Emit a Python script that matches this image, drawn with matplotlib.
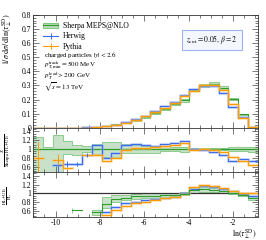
import numpy as np
import matplotlib
matplotlib.use("Agg")
import matplotlib.pyplot as plt
from matplotlib.ticker import MultipleLocator, FuncFormatter
from matplotlib.lines import Line2D
from matplotlib.patches import Patch

nan = np.nan

# binning in ln(tau_perp^SD)
edges = np.linspace(-11.0, -0.9, 24)

# main panel: 1/sigma dsigma/dln(tau)
sherpa = [0, 0, 0, 0, 0, 0.001, 0.004, 0.012, 0.024, 0.036, 0.053, 0.078, 0.108,
          0.135, 0.166, 0.197, 0.270, 0.300, 0.313, 0.285, 0.205, 0.095, 0.006]
herwig = [0, 0, 0.0003, 0.0005, 0.0008, 0.002, 0.006, 0.011, 0.022, 0.040, 0.059, 0.085, 0.118,
          0.152, 0.186, 0.231, 0.272, 0.296, 0.296, 0.248, 0.148, 0.074, 0.005]
pythia = [0, 0, 0, 0, 0, 0.001, 0.004, 0.009, 0.020, 0.036, 0.055, 0.080, 0.112,
          0.142, 0.178, 0.222, 0.262, 0.300, 0.305, 0.265, 0.170, 0.072, 0.004]

# ratio to Sherpa HL+UE
sherpa_r1_lo = [0.40, 0.40, 0.40, 0.89, 0.87, 0.94, 0.88, 0.82, 0.82, 0.91, 0.91, 0.91, 0.91,
                0.95, 0.95, 0.94, 0.97, 0.97, 0.97, 0.97, 0.96, 0.96, 0.94]
sherpa_r1_hi = [1.27, 1.05, 1.32, 1.19, 1.10, 1.06, 1.12, 1.17, 1.17, 1.12, 1.08, 1.07, 1.07,
                1.06, 1.05, 1.04, 1.03, 1.03, 1.03, 1.03, 1.04, 1.04, 1.05]
herwig_r1 = [nan, nan, 0.63, 0.66, 0.66, 0.87, 1.08, 0.80, 0.91, 1.10, 1.12, 1.08, 1.07,
             1.12, 1.13, 1.18, 0.99, 0.97, 0.94, 0.87, 0.72, 0.78, 0.74]
herwig_r1_err = [0, 0, 0.18, 0.06, 0.05, 0.05, 0, 0, 0, 0, 0, 0, 0, 0, 0, 0, 0, 0, 0, 0, 0, 0, 0]
pythia_r1 = [0.80, nan, 0.76, 0.58, nan, 0.86, 0.87, 0.72, 0.80, 0.98, 1.03, 1.03, 1.04,
             1.06, 1.10, 1.13, 0.98, 0.99, 0.97, 0.93, 0.83, 0.72, 0.64]
pythia_r1_err = [0.35, 0, 0.12, 0, 0, 0, 0, 0, 0, 0, 0, 0, 0, 0, 0, 0, 0, 0, 0, 0, 0, 0, 0]

# ratio HL+UE / PL
sherpa_r2 = [nan, nan, nan, nan, 0.62, nan, 0.57, 0.76, 0.88, 0.90, 0.93, 0.95, 0.95,
             0.96, 0.97, 0.99, 1.07, 1.09, 1.08, 1.05, 1.01, 0.97, 0.90]
sherpa_r2_lo = [nan, nan, nan, nan, 0.55, nan, 0.52, 0.66, 0.80, 0.84, 0.88, 0.90, 0.90,
                0.92, 0.93, 0.96, 1.02, 1.03, 1.03, 1.01, 0.98, 0.93, 0.86]
sherpa_r2_hi = [nan, nan, nan, nan, 0.68, nan, 0.62, 0.92, 0.97, 0.96, 0.98, 1.00, 1.00,
                1.00, 1.01, 1.03, 1.12, 1.14, 1.13, 1.10, 1.05, 1.01, 0.95]
herwig_r2 = [nan, nan, nan, nan, nan, nan, nan, 0.57, 0.70, 0.78, 0.81, 0.85, 0.88,
             0.90, 0.92, 1.00, 1.10, 1.17, 1.15, 1.10, 1.05, 0.99, 0.93]
pythia_r2 = [nan, nan, nan, nan, nan, nan, nan, 0.52, 0.63, 0.72, 0.78, 0.81, 0.86,
             0.89, 0.92, 0.99, 1.15, 1.20, 1.17, 1.12, 1.06, 1.00, 1.00]

main_yticks = [0, 0.1, 0.2, 0.3, 0.4, 0.5, 0.6, 0.7, 0.8]
ratio_yticks = [0.6, 0.8, 1.0, 1.2, 1.4]
xticks = [-10, -8, -6, -4, -2]

green = "#2f9e2f"
green_band = "#bfdcbf"
green_edge = "#7cc67c"
blue = "#3b6cf0"
orange = "#ff9c00"

plt.rcParams["font.family"] = ["Liberation Serif", "DejaVu Serif"]
plt.rcParams["mathtext.fontset"] = "stix"
plt.rcParams["axes.unicode_minus"] = False
plt.rcParams["font.size"] = 6


def ext(v):
    v = np.asarray(v, dtype=float)
    return np.append(v, v[-1])


def step(ax, vals, color, lw=0.8, light=None):
    if light is not None:
        ax.step(edges, ext(vals), where="post", color=light, lw=2.2, alpha=0.45)
    ax.step(edges, ext(vals), where="post", color=color, lw=lw)


def band(ax, lo, hi):
    ax.fill_between(edges, ext(lo), ext(hi), step="post", facecolor=green_band,
                    edgecolor=green_edge, lw=0.7, alpha=0.85)


fig = plt.figure(figsize=(2.66, 2.4), dpi=100)
L, W = 33.3 / 266, 224.4 / 266
ax0 = fig.add_axes([L, 1 - 128 / 240, W, 113 / 240])
ax1 = fig.add_axes([L, 1 - 172.3 / 240, W, 44.3 / 240])
ax2 = fig.add_axes([L, 1 - 216.7 / 240, W, 44.4 / 240])

# main panel
sh = np.array(sherpa)
band(ax0, sh * np.nan_to_num(sherpa_r1_lo), sh * np.array(sherpa_r1_hi))
step(ax0, sherpa, green)
step(ax0, herwig, blue, light="#8fb0ff")
step(ax0, pythia, orange, light="#ffc870")
ax0.set_ylim(-0.002, 0.8)

# ratio 1
band(ax1, sherpa_r1_lo, sherpa_r1_hi)
ax1.axhline(1, color=green, lw=0.9)
step(ax1, herwig_r1, blue, light="#8fb0ff")
step(ax1, pythia_r1, orange, light="#ffc870")
cen = 0.5 * (edges[1:] + edges[:-1])
ax1.errorbar(cen, herwig_r1, yerr=herwig_r1_err, fmt="none", ecolor=blue, elinewidth=0.7)
ax1.errorbar(cen, pythia_r1, yerr=pythia_r1_err, fmt="none", ecolor=orange, elinewidth=0.7)
ax1.set_ylim(0.475, 1.475)

# ratio 2
band(ax2, sherpa_r2_lo, sherpa_r2_hi)
ax2.axhline(1, color="#333333", lw=0.9)
step(ax2, herwig_r2, blue, light="#8fb0ff")
step(ax2, pythia_r2, orange, light="#ffc870")
step(ax2, sherpa_r2, green)
ax2.set_ylim(0.475, 1.475)

fmt = FuncFormatter(lambda v, p: "%g" % round(v, 3))
for ax in (ax0, ax1, ax2):
    ax.set_xlim(edges[0], edges[-1])
    ax.set_xticks(xticks)
    ax.xaxis.set_minor_locator(MultipleLocator(0.5))
    ax.tick_params(which="both", direction="in", top=True, right=True,
                   labelsize=5.5, width=0.5, color="#444444", pad=1.5)
    ax.tick_params(which="major", length=4)
    ax.tick_params(which="minor", length=2)
    ax.yaxis.set_major_formatter(fmt)
    for s in ax.spines.values():
        s.set_linewidth(0.6)
        s.set_color("#333333")
    if ax is not ax2:
        ax.tick_params(labelbottom=False)

ax0.set_yticks(main_yticks)
ax0.yaxis.set_minor_locator(MultipleLocator(0.02))
for ax in (ax1, ax2):
    ax.set_yticks(ratio_yticks)
    ax.yaxis.set_minor_locator(MultipleLocator(0.05))
ax2.xaxis.set_major_formatter(FuncFormatter(lambda v, p: "%d" % v))

# legend
handles = [(Patch(facecolor=green_band, edgecolor=green_edge, lw=0.7), Line2D([], [], color=green, lw=0.9)),
           Line2D([], [], color=blue, lw=0.8, marker="|", markersize=5, markeredgewidth=0.7),
           Line2D([], [], color=orange, lw=0.8, marker="|", markersize=5, markeredgewidth=0.7)]
labels = ["Sherpa MEPS@NLO", "Herwig", "Pythia"]
ax0.legend(handles, labels, loc="upper left", bbox_to_anchor=(0.03, 0.965), frameon=False,
           fontsize=5.5, handlelength=2.0, handletextpad=0.6, labelspacing=0.3, borderaxespad=0)

def px(x, y):
    return x / 266, 1 - y / 240

info = ["charged particles $|y| < 2.6$",
        r"$p_{T,\mathrm{min}}^{\mathrm{track}} = 500$ MeV",
        r"$p_T^{\mathrm{lead}} > 200$ GeV",
        r"$\sqrt{s} = 13$ TeV"]
for i, s in enumerate(info):
    fig.text(*px(44.5, 55 + 10.8 * i), s, fontsize=5.0, va="center", ha="left")

fig.text(*px(212, 40), r"$z_{\mathrm{cut}} = 0.05,\, \beta = 2$", fontsize=5.5, ha="center", va="center",
         bbox=dict(boxstyle="square,pad=0.5", facecolor="#f5f7ff", edgecolor="#9fb3f0", lw=0.8))

fig.text(*px(7, 13), r"$1/\sigma\;\mathrm{d}\sigma/\mathrm{d}\,\ln(\tau_\perp^{\mathrm{SD}})$",
         rotation=90, ha="center", va="top", fontsize=5.8)
fig.text(*px(7, 150), r"$\frac{X}{\mathrm{Sherpa\ HL{+}UE}}$", rotation=90, ha="center", va="center", fontsize=5)
fig.text(*px(8, 196), r"$\frac{\mathrm{HL{+}UE}}{\mathrm{PL}}$", rotation=90, ha="center", va="center", fontsize=5)
fig.text(*px(257, 234), r"$\ln(\tau_\perp^{\mathrm{SD}})$", ha="right", va="center", fontsize=5.8)

fig.savefig("out.png", dpi=100)
